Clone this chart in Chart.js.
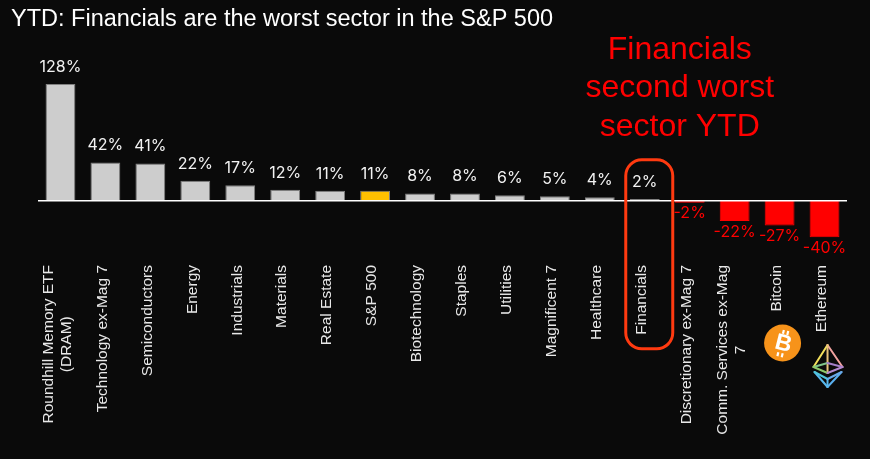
<!DOCTYPE html>
<html lang="en">
<head>
<meta charset="UTF-8">
<title>YTD returns by sector</title>
<script src="https://cdn.jsdelivr.net/npm/chart.js"></script>
<style>
  html, body { margin: 0; padding: 0; background: #0a0a0a; }
  canvas { display: block; }
</style>
</head>
<body>
<canvas id="ytdChart" width="870" height="459"></canvas>
<script>
// data
const categories = [
  ['Roundhill Memory ETF', '(DRAM)'], 'Technology ex-Mag 7', 'Semiconductors', 'Energy',
  'Industrials', 'Materials', 'Real Estate', 'S&P 500', 'Biotechnology', 'Staples',
  'Utilities', 'Magnificent 7', 'Healthcare', 'Financials', 'Discretionary ex-Mag 7',
  ['Comm. Services ex-Mag', '7'], 'Bitcoin', 'Ethereum'
];
const ytdReturns = [128, 42, 41, 22, 17, 12, 11, 11, 8, 8, 6, 5, 4, 2, -2, -22, -27, -40];
const highlightCategory = 'S&P 500';
const calloutCategory = 'Financials';
const calloutLines = ['Financials', 'second worst', 'sector YTD'];
const titleText = 'YTD: Financials are the worst sector in the S&P 500';

const GREY = '#cdcdcd', GOLD = '#ffc000', RED = '#ff0000';

const barColors = ytdReturns.map((v, i) =>
  v < 0 ? RED : (categories[i] === highlightCategory ? GOLD : GREY));
const borderColors = ytdReturns.map(v => v < 0 ? RED : '#808080');

function drawBitcoin(ctx, cx, cy) {
  ctx.save();
  ctx.fillStyle = '#f7931a';
  ctx.beginPath();
  ctx.arc(cx, cy, 18.5, 0, Math.PI * 2);
  ctx.fill();
  ctx.translate(cx, cy);
  ctx.rotate(14 * Math.PI / 180);
  ctx.fillStyle = '#ffffff';
  ctx.font = 'bold 23px "Liberation Sans", Arial, sans-serif';
  ctx.textAlign = 'center';
  ctx.textBaseline = 'middle';
  ctx.fillText('B', 1, 1);
  ctx.fillRect(-3, -13, 2.2, 4);
  ctx.fillRect(1.5, -13, 2.2, 4);
  ctx.fillRect(-3, 10, 2.2, 4);
  ctx.fillRect(1.5, 10, 2.2, 4);
  ctx.restore();
}

function drawEthereum(ctx, cx, top) {
  const T = [cx, top], L = [cx - 14, top + 22], R = [cx + 15, top + 22];
  const C = [cx, top + 28], M = [cx, top + 18];
  const L2 = [cx - 13, top + 27], R2 = [cx + 14, top + 27];
  const C2 = [cx, top + 34], B = [cx, top + 42];
  const seg = (a, b, col) => {
    ctx.strokeStyle = col;
    ctx.beginPath(); ctx.moveTo(a[0], a[1]); ctx.lineTo(b[0], b[1]); ctx.stroke();
  };
  ctx.save();
  ctx.lineWidth = 2;
  ctx.lineCap = 'round';
  seg(T, L, '#f3e15c');
  seg(T, R, '#f2a3a0');
  seg(T, C, '#e8c27a');
  seg(L, M, '#7fc48a');
  seg(M, R, '#a47fc9');
  seg(L, C, '#8cc86a');
  seg(C, R, '#b48ad0');
  seg(L2, B, '#58b8ee');
  seg(R2, B, '#5ab0f0');
  seg(L2, C2, '#4fc4d8');
  seg(C2, R2, '#6aa8e8');
  seg(C2, B, '#58b8ee');
  ctx.restore();
}

const decorations = {
  id: 'decorations',
  afterDatasetsDraw(chart) {
    const { ctx, chartArea, scales: { x, y } } = chart;
    const y0 = y.getPixelForValue(0);
    const bars = chart.getDatasetMeta(0).data;

    // zero line
    ctx.save();
    ctx.strokeStyle = '#ffffff';
    ctx.lineWidth = 1.5;
    ctx.beginPath();
    ctx.moveTo(chartArea.left, y0);
    ctx.lineTo(chartArea.right, y0);
    ctx.stroke();

    // value labels
    ctx.font = '16px Inter, "Liberation Sans", sans-serif';
    ctx.textAlign = 'center';
    ctx.textBaseline = 'middle';
    bars.forEach((bar, i) => {
      const v = ytdReturns[i];
      if (v >= 0) {
        ctx.fillStyle = '#f2f2f2';
        ctx.fillText(v + '%', bar.x, bar.y - 17);
      } else {
        ctx.fillStyle = RED;
        ctx.fillText(v + '%', bar.x, bar.y + 11);
      }
    });

    // category labels, rotated, hanging from a fixed top line
    ctx.font = '15.5px "Liberation Sans", Arial, sans-serif';
    ctx.fillStyle = '#e8e8e8';
    const labelTop = chartArea.bottom + 24;
    categories.forEach((c, i) => {
      const lines = Array.isArray(c) ? c : [c];
      const w = Math.max(...lines.map(t => ctx.measureText(t).width));
      const px = x.getPixelForValue(i) - 3;
      ctx.save();
      ctx.translate(px, labelTop + w / 2);
      ctx.rotate(-Math.PI / 2);
      lines.forEach((t, j) => ctx.fillText(t, 0, (j - (lines.length - 1) / 2) * 18));
      ctx.restore();
    });

    // title
    ctx.textAlign = 'left';
    ctx.fillStyle = '#ffffff';
    ctx.font = '23.5px "Liberation Sans", Arial, sans-serif';
    ctx.fillText(titleText, 11, 20);

    // callout around Financials
    const fi = categories.indexOf(calloutCategory);
    const fx = x.getPixelForValue(fi);
    ctx.strokeStyle = '#ff3a10';
    ctx.lineWidth = 3;
    ctx.beginPath();
    ctx.roundRect(fx - 19, y0 - 41, 47, 189, 16);
    ctx.stroke();

    ctx.fillStyle = RED;
    ctx.textAlign = 'center';
    ctx.font = '32px "Liberation Sans", Arial, sans-serif';
    calloutLines.forEach((t, j) => ctx.fillText(t, fx + 35, 50 + j * 38.5));

    // crypto icons under their labels
    drawBitcoin(ctx, x.getPixelForValue(categories.indexOf('Bitcoin')) + 3, 343);
    drawEthereum(ctx, x.getPixelForValue(categories.indexOf('Ethereum')) + 3, 345);
    ctx.restore();
  }
};

new Chart(document.getElementById('ytdChart'), {
  type: 'bar',
  data: {
    labels: categories,
    datasets: [{
      data: ytdReturns,
      backgroundColor: barColors,
      borderColor: borderColors,
      borderWidth: 1,
      barPercentage: 0.83,
      categoryPercentage: 0.8
    }]
  },
  options: {
    responsive: false,
    animation: false,
    devicePixelRatio: 1,
    layout: { padding: { left: 38, right: 23, top: 73, bottom: 218 } },
    scales: {
      x: { display: false },
      y: { display: false, min: -44, max: 140 }
    },
    plugins: {
      legend: { display: false },
      tooltip: { enabled: false }
    }
  },
  plugins: [decorations]
});
</script>
</body>
</html>
